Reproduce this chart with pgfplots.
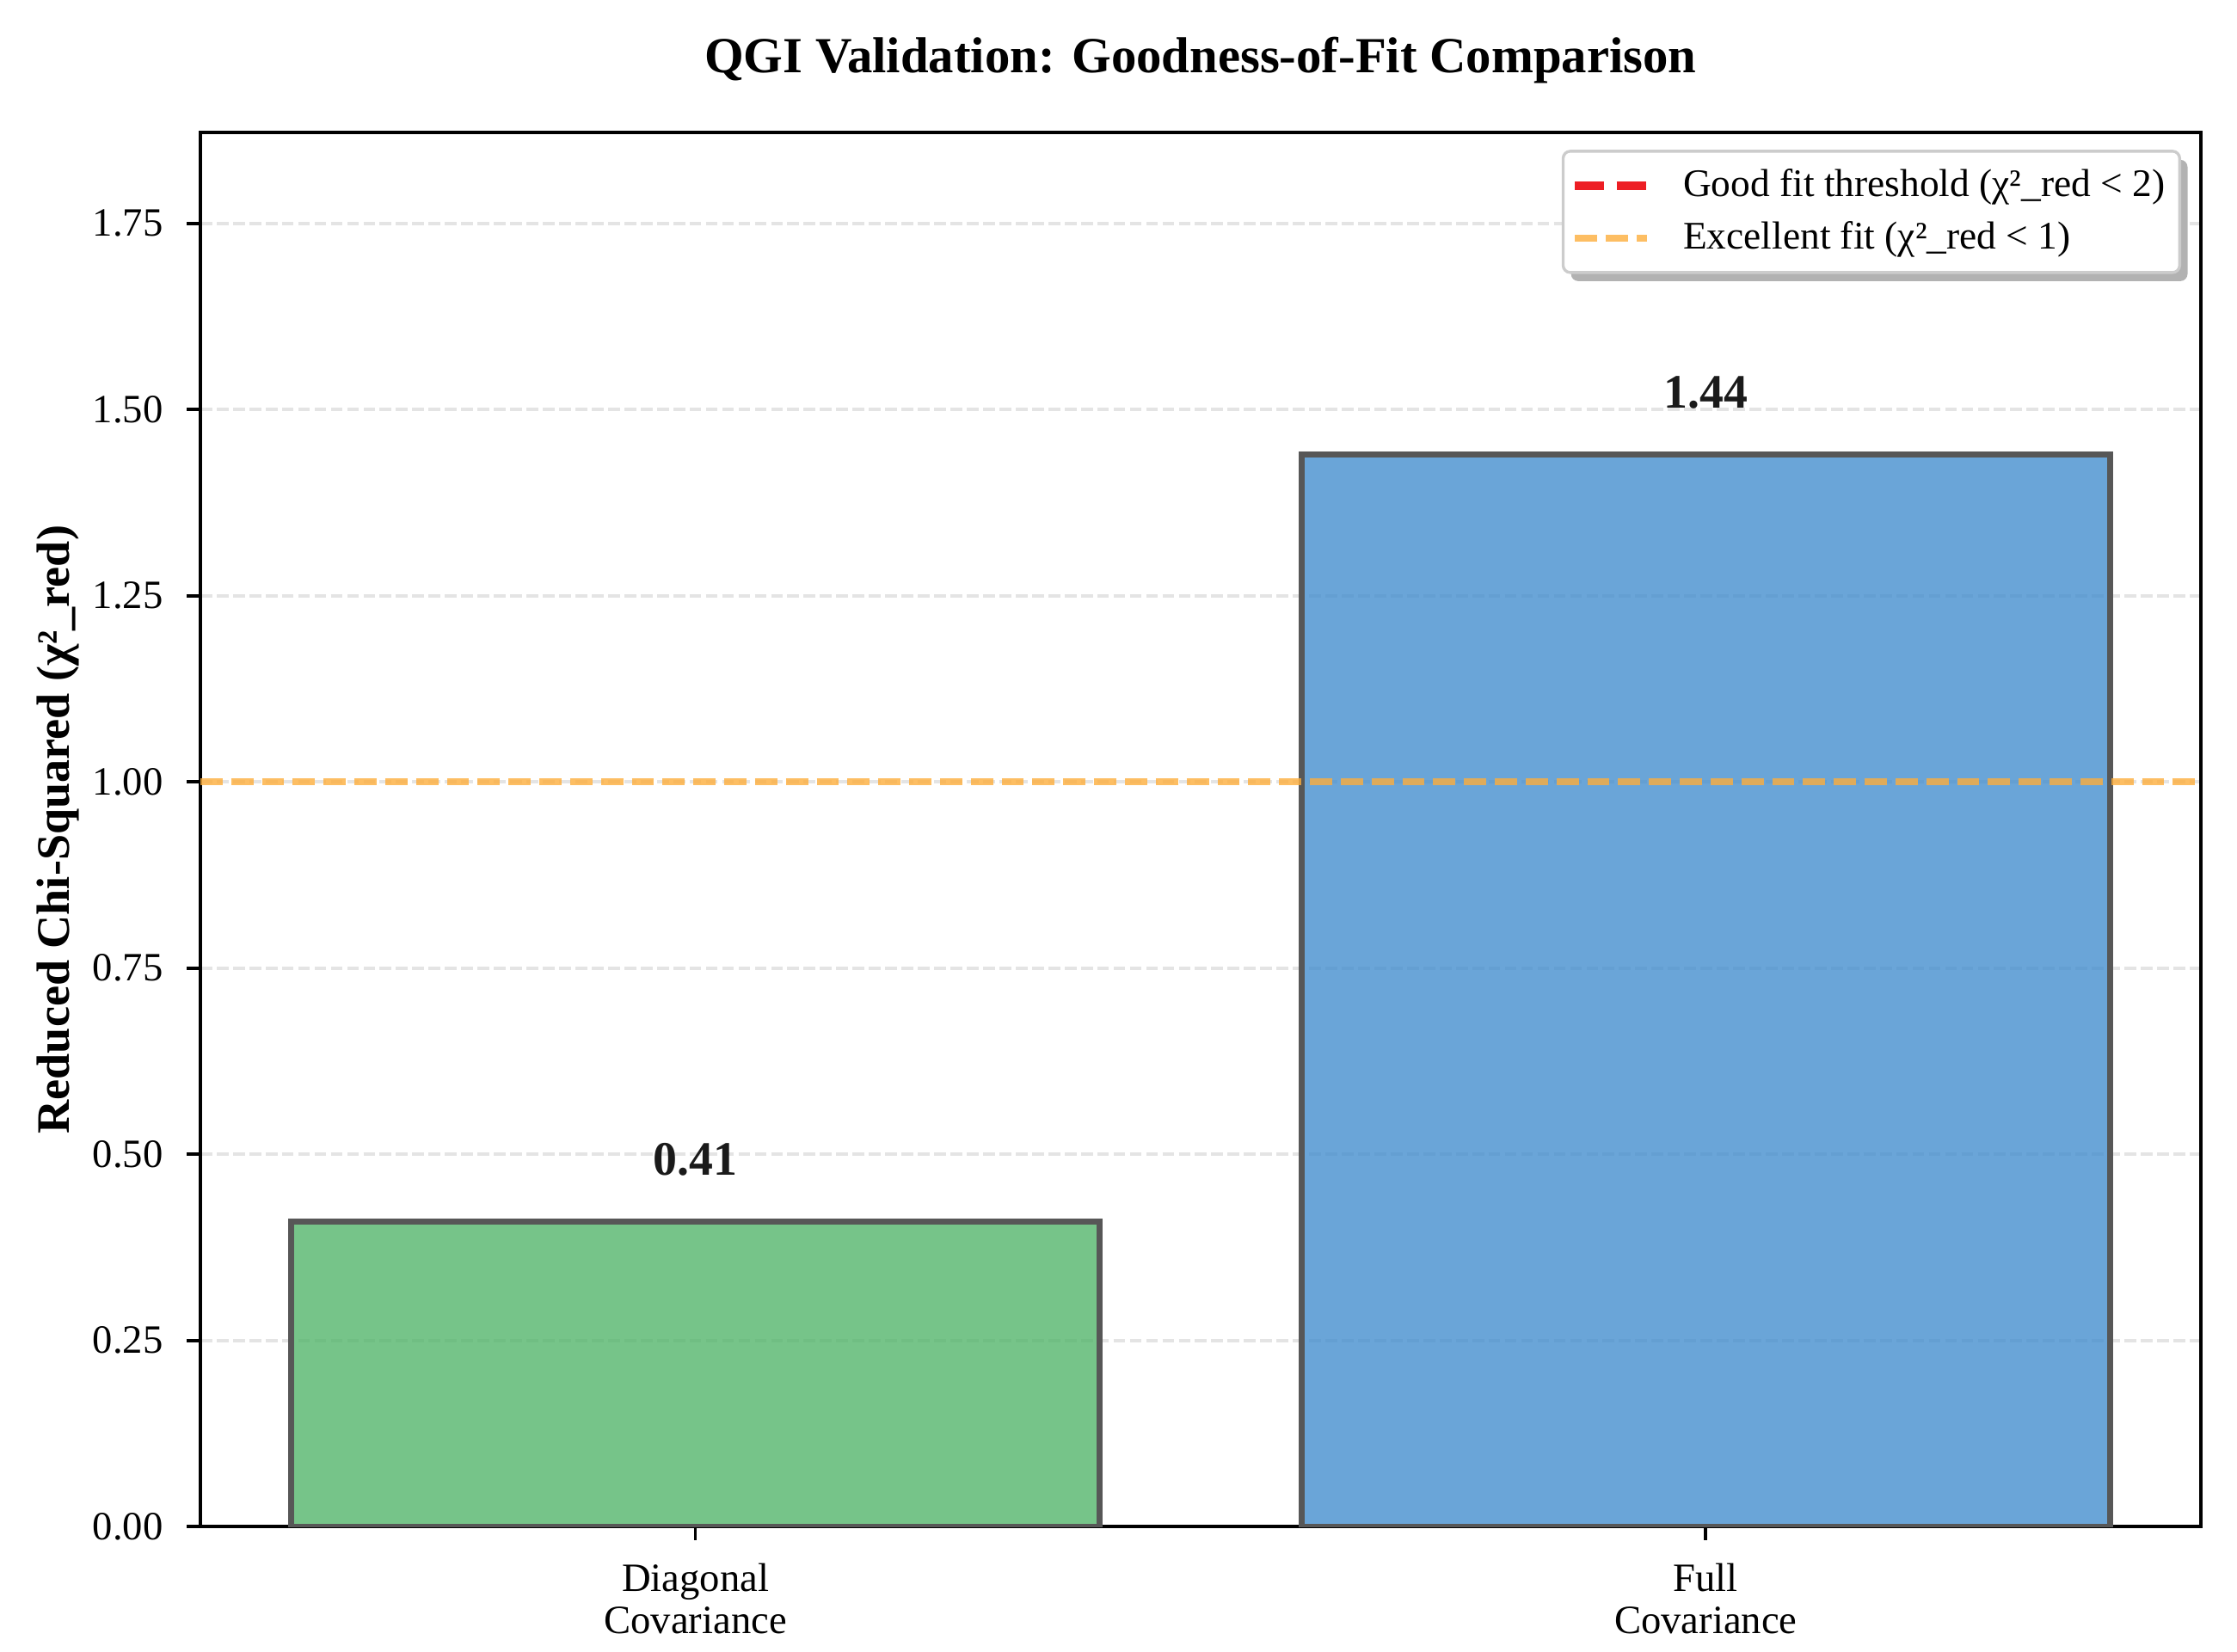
\documentclass[border=0pt]{standalone}
\usepackage{pgfplots}
\pgfplotsset{compat=1.18}
\usepackage{fontspec}
\setmainfont{Liberation Serif}
\usetikzlibrary{shadows}

\definecolor{bargreen}{RGB}{84,181,107}
\definecolor{barblue}{RGB}{69,142,206}
\definecolor{baredge}{RGB}{87,87,87}
\definecolor{goodred}{RGB}{237,30,36}
\definecolor{exorange}{RGB}{253,174,60}
\definecolor{gridgray}{RGB}{228,228,228}
\definecolor{legframe}{RGB}{204,204,204}
\definecolor{legshadow}{RGB}{178,178,178}
\definecolor{labeltext}{RGB}{26,26,26}

% legend handles must not inherit the legend box shadow
\makeatletter
\tikzset{no preactions/.code={\let\tikz@preactions=\pgfutil@empty}}
\makeatother

\begin{document}
\begin{tikzpicture}
\useasboundingbox (-55.9pt,-34.8pt) rectangle (568.3pt,426.0pt);
\begin{axis}[
    scale only axis,
    width=558.2pt, height=389.0pt,
    at={(0pt,0pt)}, anchor=south west,
    xmin=-0.49, xmax=1.49,
    ymin=0, ymax=1.872,
    axis line style={black, line width=1.1pt},
    tick style={black, line width=0.9pt},
    major tick length=3.8pt,
    tick align=outside,
    xtick pos=bottom, ytick pos=left,
    xtick={0,1},
    xticklabels={Diagonal\\Covariance, Full\\Covariance},
    ytick={0,0.25,...,1.75},
    yticklabel={\pgfmathprintnumber[fixed,fixed zerofill,precision=2]{\tick}},
    /pgf/number format/assume math mode=true,
    ticklabel style={font=\fontsize{11.2}{11.6}\selectfont},
    xticklabel style={align=center, anchor=north, inner sep=0pt, yshift=-6.4pt},
    yticklabel style={anchor=east, inner sep=0pt, xshift=-6.4pt},
    ymajorgrids,
    major grid style={gridgray, line width=0.9pt, dash pattern=on 3.3pt off 1.25pt},
    title={QGI Validation: Goodness-of-Fit Comparison},
    title style={font=\bfseries\fontsize{14.1}{16}\selectfont, at={(axis description cs:0.5,1.0427)}, anchor=base, inner sep=0pt, yshift=-6pt},
    ylabel={Reduced Chi-Squared (χ²\_red)},
    ylabel style={font=\bfseries\fontsize{13}{15}\selectfont, at={(axis description cs:-0.0713,0.5)}, anchor=center},
    legend cell align=left,
    legend image code/.code={\draw[no preactions,#1] (0pt,0pt) -- (20pt,0pt);},
    legend style={
        at={(axis description cs:1,1)}, anchor=north east,
        xshift=-5.5pt, yshift=-4.8pt,
        font=\fontsize{10.9}{13}\selectfont,
        draw=legframe, line width=0.8pt, fill=white,
        rounded corners=2pt,
        drop shadow={shadow xshift=2.2pt, shadow yshift=-2.4pt, fill=legshadow, opacity=1},
        inner xsep=2.1pt, inner ysep=3.4pt,
        row sep=2.3pt,
        nodes={inner ysep=1.6pt, inner xsep=2pt},
        /tikz/every odd column/.append style={column sep=7pt},
    },
    value label/.style={
        nodes near coords={\pgfmathprintnumber[fixed,fixed zerofill,precision=2]{\pgfplotspointmeta}},
        nodes near coords style={font=\bfseries\fontsize{13.4}{16}\selectfont, anchor=base, yshift=12.9pt, inner sep=0pt, text=labeltext, text opacity=1, opacity=1},
    },
]
% bars
\addplot[ybar, bar width=0.8, bar shift=0pt, fill=bargreen, fill opacity=0.8, draw=baredge, line width=1.7pt, value label, forget plot]
  coordinates {(0,0.41)};
\addplot[ybar, bar width=0.8, bar shift=0pt, fill=barblue, fill opacity=0.8, draw=baredge, line width=1.7pt, value label, forget plot]
  coordinates {(1,1.44)};
% threshold lines
\addplot[goodred, line width=2.4pt, dash pattern=on 8.2pt off 3.4pt, no markers]
  coordinates {(-0.49,2) (1.49,2)};
\addplot[exorange, draw opacity=0.8, line width=1.9pt, dash pattern=on 6.2pt off 2.4pt, no markers]
  coordinates {(-0.49,1) (1.49,1)};
\legend{Good fit threshold (χ²\_red < 2), Excellent fit (χ²\_red < 1)}
\end{axis}
\end{tikzpicture}
\end{document}
